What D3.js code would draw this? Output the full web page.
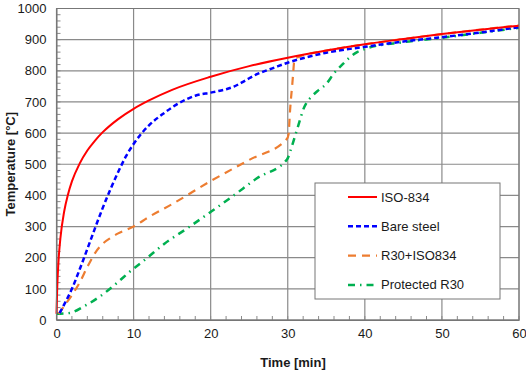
<!DOCTYPE html>
<html>
<head>
<meta charset="utf-8">
<script src="https://cdn.jsdelivr.net/npm/d3@7"></script>
<style>
  body { margin: 0; background: #fff; }
  svg { display: block; font-family: "Liberation Sans", Arial, sans-serif; }
</style>
</head>
<body>
<svg id="chart" width="526" height="374"></svg>
<script>
// Series values (time in min, temperature in °C)
const iso_t = [0, 0.1, 0.25, 0.5, 1, 1.5, 2, 3, 4, 5, 6, 8, 10, 12, 15, 20, 25, 30, 35, 40, 45, 50, 55, 60];
const iso_v = [20, 108, 185, 261, 349, 404, 445, 502, 544, 576, 603, 645, 678, 705, 739, 781, 815, 842, 865, 885, 902, 918, 932, 945];

const bare_t = [0.4, 1, 2, 3, 4, 5, 6, 7, 8, 9, 10, 11, 12, 14, 16, 18, 20, 21, 22, 23, 24, 25, 26, 27, 28, 30, 35, 40, 45, 50, 55, 60];
const bare_v = [22, 50, 100, 162, 228, 295, 360, 420, 475, 525, 565, 598, 625, 665, 698, 720, 730, 735, 741, 749, 762, 776, 789, 799, 808, 826, 858, 877, 894, 908, 923, 940];

const r30iso_t = [0.3, 1, 2, 3, 4, 5, 6, 7, 8, 10, 12, 15, 20, 25, 29.9, 30.1, 30.3, 30.6, 30.9, 31.5, 35, 40, 45, 50, 55, 60];
const r30iso_v = [20, 45, 80, 120, 170, 215, 245, 263, 278, 300, 331, 372, 446, 514, 582, 595, 673, 760, 838, 845, 865, 885, 902, 918, 932, 946];

const prot_t = [0, 1, 1.8, 3.5, 5.6, 7.8, 9.5, 11.7, 14, 17, 20, 23, 26, 29.9, 30.5, 31, 31.5, 32, 32.5, 33, 34, 35, 36, 37, 38, 39, 40, 45, 50, 55, 60];
const prot_v = [20, 21, 23, 43, 75, 118, 155, 198, 245, 295, 347, 400, 455, 515, 555, 595, 635, 675, 700, 715, 738, 758, 792, 818, 842, 860, 870, 892, 906, 922, 938];

const series_names = ['ISO-834', 'Bare steel', 'R30+ISO834', 'Protected R30'];
const x_ticks = [0, 10, 20, 30, 40, 50, 60];
const y_ticks = [0, 100, 200, 300, 400, 500, 600, 700, 800, 900, 1000];

const svg = d3.select('#chart');

const xScale = d3.scaleLinear().domain([0, 60]).range([56.5, 519]);
const yScale = d3.scaleLinear().domain([0, 1000]).range([320, 8.5]);

const gridColor = '#8a8a8a';
const textColor = '#1a1a1a';
const fontFam = '"Liberation Sans", Arial, sans-serif';

// grid lines
svg.append('g').selectAll('line')
    .data(x_ticks)
    .join('line')
    .attr('x1', d => xScale(d)).attr('x2', d => xScale(d))
    .attr('y1', yScale(0)).attr('y2', yScale(1000))
    .attr('stroke', gridColor).attr('stroke-width', 1.2);

svg.append('g').selectAll('line')
    .data(y_ticks)
    .join('line')
    .attr('x1', xScale(0)).attr('x2', xScale(60))
    .attr('y1', d => yScale(d)).attr('y2', d => yScale(d))
    .attr('stroke', gridColor).attr('stroke-width', 1.2);

// minor ticks (inside)
const xMinor = d3.range(0, 61, 2);
const yMinor = d3.range(0, 1001, 20);
svg.append('g').selectAll('line')
    .data(xMinor)
    .join('line')
    .attr('x1', d => xScale(d)).attr('x2', d => xScale(d))
    .attr('y1', yScale(0)).attr('y2', yScale(0) - 4)
    .attr('stroke', gridColor);
svg.append('g').selectAll('line')
    .data(yMinor)
    .join('line')
    .attr('x1', xScale(0)).attr('x2', xScale(0) + 4)
    .attr('y1', d => yScale(d)).attr('y2', d => yScale(d))
    .attr('stroke', gridColor);

// axes
svg.append('g')
    .attr('transform', `translate(0,${yScale(0)})`)
    .call(d3.axisBottom(xScale).tickValues(x_ticks).tickFormat(d3.format('d')).tickSize(0).tickPadding(9))
    .call(g => g.select('.domain').attr('stroke', '#777'))
    .call(g => g.selectAll('text').attr('font-size', 13).attr('fill', textColor).attr('font-family', fontFam));

svg.append('g')
    .attr('transform', `translate(${xScale(0)},0)`)
    .call(d3.axisLeft(yScale).tickValues(y_ticks).tickFormat(d3.format('d')).tickSize(0).tickPadding(10))
    .call(g => g.select('.domain').attr('stroke', '#777'))
    .call(g => g.selectAll('text').attr('font-size', 13).attr('fill', textColor).attr('font-family', fontFam));

// axis titles
svg.append('text')
    .attr('x', 293).attr('y', 367)
    .attr('text-anchor', 'middle')
    .attr('font-size', 13).attr('font-weight', 'bold').attr('fill', textColor)
    .text('Time [min]');

svg.append('text')
    .attr('transform', `translate(15,${yScale(500)}) rotate(-90)`)
    .attr('text-anchor', 'middle')
    .attr('font-size', 13).attr('font-weight', 'bold').attr('fill', textColor)
    .text('Temperature [°C]');

// curves
const styles = [
    { color: '#ff0000', dash: null, width: 2 },
    { color: '#0000ff', dash: '5,3', width: 2.5 },
    { color: '#ed7d31', dash: '8,6', width: 2.2 },
    { color: '#00b050', dash: '7,5,1.5,5', width: 2.5 }
];
const seriesData = [
    iso_t.map((t, i) => [t, iso_v[i]]),
    bare_t.map((t, i) => [t, bare_v[i]]),
    r30iso_t.map((t, i) => [t, r30iso_v[i]]),
    prot_t.map((t, i) => [t, prot_v[i]])
];

const line = d3.line()
    .x(d => xScale(d[0]))
    .y(d => yScale(d[1]))
    .curve(d3.curveMonotoneX);

// draw in reverse so red stays on top
[3, 2, 1, 0].forEach(i => {
    svg.append('path')
        .datum(seriesData[i])
        .attr('d', line)
        .attr('fill', 'none')
        .attr('stroke', styles[i].color)
        .attr('stroke-width', styles[i].width)
        .attr('stroke-dasharray', styles[i].dash);
});

// top and right frame
svg.append('rect')
    .attr('x', xScale(0)).attr('y', yScale(1000))
    .attr('width', xScale(60) - xScale(0)).attr('height', yScale(0) - yScale(1000))
    .attr('fill', 'none').attr('stroke', '#777');

// legend
const legend = svg.append('g').attr('transform', 'translate(315,183)');
legend.append('rect')
    .attr('width', 185).attr('height', 116)
    .attr('fill', '#fff').attr('stroke', '#777');

series_names.forEach((name, i) => {
    const y = 14 + i * 29.3;
    legend.append('line')
        .attr('x1', 33).attr('x2', 62)
        .attr('y1', y).attr('y2', y)
        .attr('stroke', styles[i].color)
        .attr('stroke-width', styles[i].width)
        .attr('stroke-dasharray', styles[i].dash);
    legend.append('text')
        .attr('x', 66).attr('y', y + 4.5)
        .attr('font-size', 13).attr('fill', textColor)
        .text(name);
});
</script>
</body>
</html>
